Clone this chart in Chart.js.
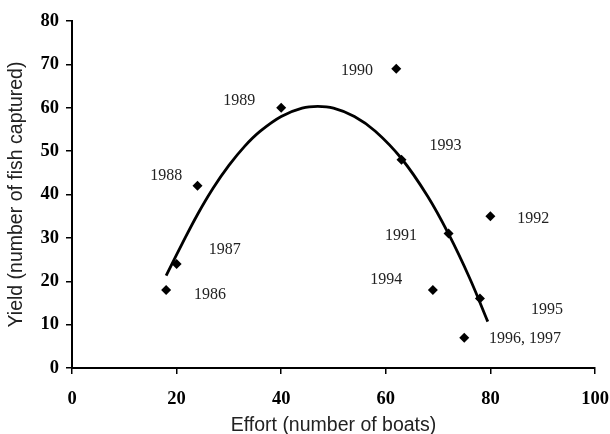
<!DOCTYPE html>
<html>
<head>
<meta charset="utf-8">
<script src="https://cdn.jsdelivr.net/npm/chart.js@4.4.1/dist/chart.umd.min.js"></script>
<style>
  html, body { margin: 0; padding: 0; background: #fff; }
  #wrap { width: 610px; height: 434px; position: relative; }
</style>
</head>
<body>
<div id="wrap"><canvas id="c" width="610" height="434"></canvas></div>
<script>
// Observed data: fishing effort (boats) vs yield (fish captured)
const years   = ["1986", "1987", "1988", "1989", "1990", "1991", "1992", "1993", "1994", "1995", "1996, 1997"];
const effort  = [18, 20, 24, 40, 62, 72, 80, 63, 69, 78, 75];
const yieldV  = [18, 24, 42, 60, 69, 31, 35, 48, 18, 16, 7];

// Year label anchor positions (in data units: effort, yield)
const labelEffort = [26.4, 29.2, 18.0, 32.0, 54.5, 62.9, 88.2, 71.4, 60.1, 90.8, 86.6];
const labelYield  = [16.8, 27.2, 44.4, 61.7, 68.6, 30.5, 34.3, 51.3, 20.3, 13.4, 6.7];

// Trend curve
const trendEffort = [18, 21, 24, 27, 30, 33, 36, 40, 44, 47, 50, 54, 58, 63, 68, 72, 76, 79.5];
const trendYield  = [21.3, 28.5, 35.4, 41.5, 46.7, 51.1, 54.6, 58.0, 59.9, 60.3, 59.9, 58.0, 54.6, 48.3, 39.6, 30.9, 20.8, 10.7];

// Axis ticks
const xTicks = [0, 20, 40, 60, 80, 100];
const yTicks = [0, 10, 20, 30, 40, 50, 60, 70, 80];

const points = effort.map((e, i) => ({ x: e, y: yieldV[i] }));
const trend = trendEffort.map((e, i) => ({ x: e, y: trendYield[i] }));

const yearLabels = {
  id: 'yearLabels',
  afterDatasetsDraw(chart) {
    const { ctx, scales: { x, y } } = chart;
    ctx.save();
    ctx.font = '16px "Liberation Serif", "Times New Roman", serif';
    ctx.fillStyle = '#222';
    ctx.textAlign = 'center';
    ctx.textBaseline = 'middle';
    years.forEach((t, i) => {
      ctx.fillText(t, x.getPixelForValue(labelEffort[i]), y.getPixelForValue(labelYield[i]));
    });
    ctx.restore();
  }
};

const zeroPad = s => { s.paddingLeft = 0; s.paddingRight = 0; s.paddingTop = 0; s.paddingBottom = 0; };

new Chart(document.getElementById('c'), {
  type: 'scatter',
  data: {
    datasets: [
      {
        label: 'Trend',
        data: trend,
        showLine: true,
        borderColor: '#000',
        borderWidth: 2.8,
        pointRadius: 0,
        tension: 0.4,
        fill: false,
        order: 2
      },
      {
        label: 'Observed',
        data: points,
        showLine: false,
        pointStyle: 'rectRot',
        pointRadius: 5,
        backgroundColor: '#000',
        borderColor: '#000',
        borderWidth: 0,
        order: 1
      }
    ]
  },
  options: {
    responsive: false,
    animation: false,
    devicePixelRatio: 1,
    layout: { padding: { top: 21, right: 15, left: 0, bottom: 0 } },
    plugins: { legend: { display: false }, tooltip: { enabled: false } },
    scales: {
      x: {
        type: 'linear',
        min: 0, max: 100,
        afterBuildTicks: s => { s.ticks = xTicks.map(v => ({ value: v })); },
        afterFit: s => { s.height = 66; zeroPad(s); },
        border: { display: true, color: '#000', width: 2 },
        grid: { drawOnChartArea: false, drawTicks: true, tickLength: 6, color: '#000', lineWidth: 1.5 },
        ticks: {
          color: '#000',
          padding: 14,
          maxRotation: 0,
          font: { family: '"Liberation Serif", "Times New Roman", serif', size: 18.5, weight: 'bold' }
        },
        title: {
          display: true,
          text: 'Effort (number of boats)',
          color: '#222',
          padding: { top: 0, bottom: 0 },
          font: { family: '"Liberation Sans", Arial, sans-serif', size: 19.5, lineHeight: 0.9 }
        }
      },
      y: {
        type: 'linear',
        min: 0, max: 80,
        afterBuildTicks: s => { s.ticks = yTicks.map(v => ({ value: v })); },
        afterFit: s => { s.width = 72; zeroPad(s); },
        border: { display: true, color: '#000', width: 2 },
        grid: { drawOnChartArea: false, drawTicks: true, tickLength: 6, color: '#000', lineWidth: 1.5 },
        ticks: {
          color: '#000',
          padding: 7,
          font: { family: '"Liberation Serif", "Times New Roman", serif', size: 18.5, weight: 'bold' }
        },
        title: {
          display: true,
          text: 'Yield (number of fish captured)',
          color: '#222',
          padding: { top: 7, bottom: 0 },
          font: { family: '"Liberation Sans", Arial, sans-serif', size: 19.5, lineHeight: 1.0 }
        }
      }
    }
  },
  plugins: [yearLabels]
});
</script>
</body>
</html>
